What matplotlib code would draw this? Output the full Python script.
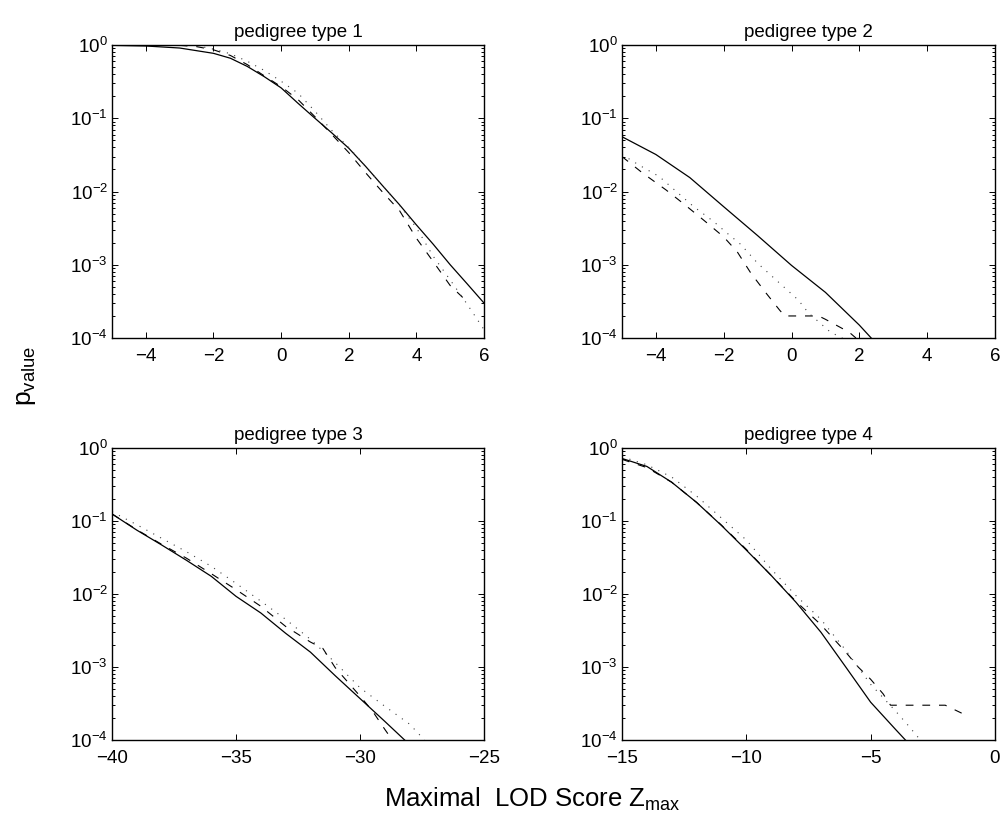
import numpy as np
import matplotlib.pyplot as plt
from matplotlib.ticker import LogLocator, FixedLocator, NullFormatter

plt.rcParams['font.family'] = ['Liberation Sans', 'DejaVu Sans']
plt.rcParams['mathtext.fontset'] = 'custom'
plt.rcParams['mathtext.rm'] = 'Liberation Sans'
plt.rcParams['mathtext.it'] = 'Liberation Sans:italic'

# pedigree type 1
x1_solid = [-5, -4, -3, -2, -1.5, -1, -0.5, 0, 0.5, 1, 1.5, 2, 2.5, 3, 3.5, 4, 4.5, 5, 5.5, 6]
y1_solid = [0.99, 0.97, 0.91, 0.77, 0.66, 0.51, 0.37, 0.26, 0.16, 0.1, 0.063, 0.039, 0.022, 0.012, 0.0066, 0.0035, 0.0019, 0.001, 0.00055, 0.0003]
x1_dash = [-3, -2.5, -2, -1.5, -1, -0.5, 0, 0.5, 1, 1.5, 2, 2.5, 3, 3.5, 4, 4.5, 5, 5.45]
y1_dash = [0.99, 0.95, 0.86, 0.72, 0.54, 0.38, 0.27, 0.18, 0.105, 0.06, 0.034, 0.018, 0.0098, 0.0055, 0.0023, 0.0011, 0.00052, 0.00033]
x1_dot = [-2.5, -2, -1.5, -1, -0.5, 0, 0.5, 1, 1.5, 2, 2.5, 3, 3.5, 4, 4.5, 5, 5.5, 6]
y1_dot = [0.98, 0.88, 0.76, 0.6, 0.45, 0.32, 0.22, 0.125, 0.068, 0.04, 0.022, 0.012, 0.0065, 0.0032, 0.0013, 0.00062, 0.00029, 0.00013]

# pedigree type 2
x2_solid = [-5, -4, -3, -2, -1, 0, 1, 2, 2.35]
y2_solid = [0.056, 0.032, 0.0155, 0.0062, 0.0025, 0.00098, 0.00042, 0.00015, 0.0001]
x2_dash = [-5, -4.4, -3.7, -3.2, -2.6, -2, -1.6, -1.2, -0.75, -0.35, -0.2, 0.4, 0.8, 1, 1.7, 1.9]
y2_dash = [0.03, 0.018, 0.0105, 0.0069, 0.0041, 0.0024, 0.0015, 0.00077, 0.00041, 0.00024, 0.0002, 0.0002, 0.0002, 0.00018, 0.00012, 0.0001]
x2_dot = [-5, -4.5, -3.9, -3.5, -2.9, -2.3, -1.9, -1.5, -1, -0.35, 0.2, 0.5, 1.15, 1.5]
y2_dot = [0.032, 0.023, 0.016, 0.011, 0.0063, 0.0039, 0.0027, 0.0019, 0.00105, 0.00056, 0.00033, 0.00022, 0.00012, 0.0001]

# pedigree type 3
x3_solid = [-40, -39, -38, -37, -36, -35, -34, -33, -32, -31, -30, -29, -28.2]
y3_solid = [0.125, 0.075, 0.047, 0.029, 0.0175, 0.0093, 0.0055, 0.0029, 0.0016, 0.00076, 0.00037, 0.00018, 0.0001]
x3_dash = [-40, -39, -38, -37, -36, -35, -34, -33, -32, -31.5, -31, -30, -29.5, -29, -28.7]
y3_dash = [0.125, 0.076, 0.048, 0.031, 0.019, 0.0115, 0.0068, 0.0036, 0.0022, 0.0018, 0.00098, 0.0004, 0.00025, 0.00014, 0.0001]
x3_dot = [-40, -39, -38, -37, -36, -35, -34, -33, -32, -31, -30, -29, -28, -27.4]
y3_dot = [0.134, 0.089, 0.058, 0.038, 0.024, 0.014, 0.008, 0.0045, 0.0024, 0.00115, 0.00052, 0.00029, 0.000165, 0.0001]

# pedigree type 4
x4_solid = [-15, -14, -13, -12, -11, -10, -9, -8, -7, -6, -5, -4, -3.6]
y4_solid = [0.72, 0.56, 0.34, 0.18, 0.087, 0.04, 0.018, 0.0077, 0.003, 0.001, 0.00033, 0.00014, 0.0001]
x4_dash = [-15, -14, -13, -12, -11, -10, -9, -8, -7, -6, -5.5, -5, -4.5, -4.2, -3.8, -2, -1.3]
y4_dash = [0.7, 0.54, 0.34, 0.18, 0.088, 0.041, 0.018, 0.0079, 0.0038, 0.0016, 0.001, 0.00068, 0.00043, 0.0003, 0.0003, 0.0003, 0.00023]
x4_dot = [-15, -14, -13, -12, -11, -10, -9, -8, -7, -6, -5, -4, -3.5, -3]
y4_dot = [0.76, 0.59, 0.4, 0.22, 0.11, 0.055, 0.022, 0.0095, 0.0045, 0.0017, 0.00058, 0.00025, 0.00016, 0.0001]

panels = [
    ("pedigree type 1", (-5, 6), [-4, -2, 0, 2, 4, 6], (x1_solid, y1_solid), (x1_dash, y1_dash), (x1_dot, y1_dot)),
    ("pedigree type 2", (-5, 6), [-4, -2, 0, 2, 4, 6], (x2_solid, y2_solid), (x2_dash, y2_dash), (x2_dot, y2_dot)),
    ("pedigree type 3", (-40, -25), [-40, -35, -30, -25], (x3_solid, y3_solid), (x3_dash, y3_dash), (x3_dot, y3_dot)),
    ("pedigree type 4", (-15, 0), [-15, -10, -5, 0], (x4_solid, y4_solid), (x4_dash, y4_dash), (x4_dot, y4_dot)),
]

fig = plt.figure(figsize=(10.04, 8.23), dpi=100)
rects = [
    [0.1116, 0.5893, 0.3705, 0.356],
    [0.6195, 0.5893, 0.3715, 0.356],
    [0.1116, 0.1008, 0.3705, 0.3548],
    [0.6195, 0.1008, 0.3715, 0.3548],
]

for rect, (title, xlim, xt, s, d, o) in zip(rects, panels):
    ax = fig.add_axes(rect)
    ax.plot(s[0], s[1], color='black', lw=0.9, ls='-')
    ax.plot(d[0], d[1], color='black', lw=0.8, ls=(0, (7, 8)))
    ax.plot(o[0], o[1], color='0.25', lw=0.8, ls=(0, (1, 6)))
    ax.set_yscale('log')
    ax.set_xlim(xlim)
    ax.set_ylim(1e-4, 1)
    ax.xaxis.set_major_locator(FixedLocator(xt))
    ax.yaxis.set_major_locator(LogLocator(base=10, numticks=10))
    ax.yaxis.set_minor_locator(LogLocator(base=10, subs=np.arange(2, 10), numticks=20))
    ax.yaxis.set_minor_formatter(NullFormatter())
    ax.tick_params(which='both', direction='in', top=True, right=True, labelsize=13.5, width=0.7)
    ax.tick_params(axis='x', pad=7)
    ax.tick_params(axis='y', pad=3)
    ax.tick_params(which='major', length=4)
    ax.tick_params(which='minor', length=2)
    ax.set_title(title, fontsize=13.5, pad=6)
    for sp in ax.spines.values():
        sp.set_linewidth(1.0)

fig.text(0.026, 0.543, r'p$_{\mathrm{value}}$', rotation=90, fontsize=19, ha='center', va='center')
fig.text(0.53, 0.029, r'Maximal  LOD Score Z$_{\mathrm{max}}$', fontsize=18.5, ha='center', va='center')

fig.savefig('out.png', dpi=100)
